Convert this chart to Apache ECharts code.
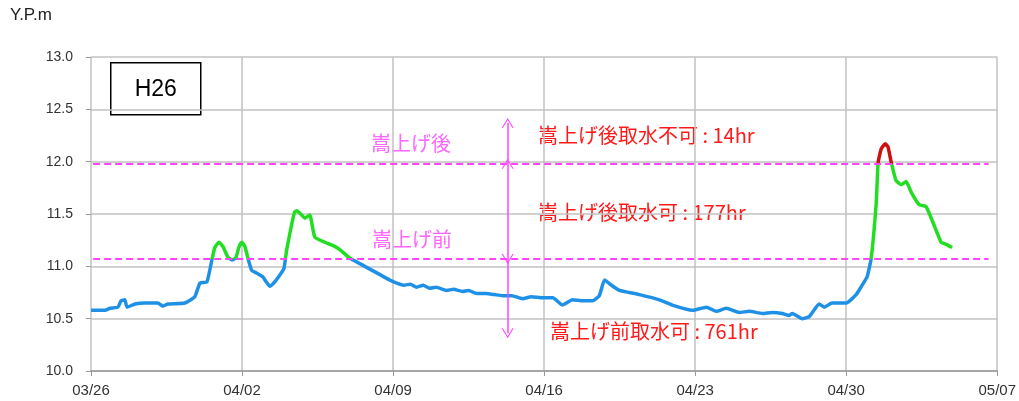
<!DOCTYPE html>
<html>
<head>
<meta charset="utf-8">
<script src="https://cdn.jsdelivr.net/npm/echarts@6/dist/echarts.min.js"></script>
<style>
  html, body { margin: 0; padding: 0; background: #fff; }
  #main { width: 1019px; height: 401px; }
</style>
</head>
<body>
<div id="main"></div>
<script>
// 日数 (03/26 0時からの経過日)
var days = [0, 0.65, 0.88, 1.25, 1.39, 1.57, 1.67, 2.04, 2.5, 3.1, 3.33, 3.56, 4.35, 4.81, 5.05, 5.37,
  5.6, 5.74, 5.93, 6.11, 6.34, 6.53, 6.71, 6.85, 6.99, 7.13, 7.27, 7.45, 7.64, 7.96, 8.29, 8.47, 8.66,
  8.94, 9.07, 9.31, 9.44, 9.54, 9.72, 9.91, 10.14, 10.37, 10.83, 11.2, 11.53, 11.99, 12.78, 13.84, 14.17,
  14.5, 14.8, 15.09, 15.4, 15.69, 16.0, 16.48, 16.8, 17.22, 17.5, 17.87, 18.3, 18.7, 19.07, 19.5, 20.0,
  20.4, 20.93, 21.4, 21.85, 22.31, 22.8, 23.24, 23.56, 23.8, 24.12, 24.49, 24.95, 25.42, 26.34, 26.94,
  27.87, 28.52, 28.98, 29.44, 30.05, 30.51, 31.11, 31.57, 32.04, 32.36, 32.5, 32.96, 33.29, 33.75, 33.98,
  34.35, 35.0, 35.46, 35.74, 35.97, 36.16, 36.39, 36.48, 36.62, 36.81, 36.94, 37.08, 37.31, 37.55, 37.78,
  38.01, 38.38, 38.7, 38.98, 39.4, 39.63, 39.91];
// 水位 (Y.P.m)
var levels = [10.58, 10.58, 10.6, 10.61, 10.67, 10.68, 10.61, 10.64, 10.65, 10.65, 10.62, 10.64, 10.65, 10.71, 10.84, 10.85,
  11.06, 11.18, 11.23, 11.19, 11.09, 11.06, 11.08, 11.18, 11.23, 11.19, 11.08, 10.96, 10.94, 10.9, 10.81, 10.84, 10.89,
  10.98, 11.16, 11.41, 11.52, 11.53, 11.5, 11.46, 11.49, 11.28, 11.23, 11.2, 11.16, 11.08, 10.99, 10.87, 10.84,
  10.82, 10.83, 10.8, 10.82, 10.79, 10.8, 10.77, 10.78, 10.76, 10.77, 10.74, 10.74, 10.73, 10.72, 10.72, 10.69,
  10.71, 10.7, 10.7, 10.63, 10.68, 10.67, 10.67, 10.72, 10.87, 10.82, 10.77, 10.75, 10.73, 10.68, 10.63,
  10.58, 10.61, 10.57, 10.6, 10.56, 10.57, 10.55, 10.56, 10.55, 10.53, 10.55, 10.5, 10.52, 10.64, 10.61,
  10.65, 10.65, 10.73, 10.82, 10.9, 11.08, 11.6, 11.99, 12.12, 12.17, 12.14, 12.0, 11.82, 11.78, 11.81,
  11.71, 11.59, 11.57, 11.44, 11.23, 11.21, 11.18];
var xTickLabels = ['03/26', '04/02', '04/09', '04/16', '04/23', '04/30', '05/07'];
var levelBefore = 11.07;  // 嵩上げ前
var levelAfter = 11.98;   // 嵩上げ後
var arrowDay = 19.31;
var arrowTop = 12.37;
var arrowBottom = 10.36;

var seriesData = days.map(function (d, i) { return [d, levels[i]]; });
var chevronUp = 'path://M0,10 L5,0 L10,10 L9,10 L5,2 L1,10 Z';

var myChart = echarts.init(document.getElementById('main'));
var option = {
  animation: false,
  grid: { left: 91, right: 21, top: 57, bottom: 30 },
  xAxis: {
    type: 'value',
    min: 0,
    max: 42,
    interval: 7,
    axisLine: { lineStyle: { color: '#999', width: 1.5 } },
    axisTick: { show: true, length: 5, lineStyle: { color: '#999' } },
    axisLabel: {
      color: '#333',
      fontSize: 15,
      fontFamily: 'Liberation Sans',
      margin: 12,
      formatter: function (v) { return xTickLabels[Math.round(v / 7)] || ''; }
    },
    splitLine: { show: true, lineStyle: { color: '#c2c2c2', width: 1.5 } }
  },
  yAxis: {
    type: 'value',
    min: 10,
    max: 13,
    interval: 0.5,
    axisLine: { show: false },
    axisTick: { show: true, length: 5, lineStyle: { color: '#999' } },
    axisLabel: {
      color: '#333',
      fontSize: 14,
      fontFamily: 'Liberation Sans',
      margin: 18,
      formatter: function (v) { return v.toFixed(1); }
    },
    splitLine: { lineStyle: { color: '#c2c2c2', width: 1.5 } }
  },
  visualMap: {
    show: false,
    type: 'piecewise',
    dimension: 1,
    seriesIndex: 0,
    pieces: [
      { lt: levelBefore, color: '#1e90e6' },
      { gte: levelBefore, lt: levelAfter, color: '#22dd22' },
      { gte: levelAfter, color: '#cc1010' }
    ]
  },
  series: [
    {
      type: 'line',
      data: seriesData,
      showSymbol: false,
      smooth: 0.15,
      lineStyle: { width: 3.5 }
    },
    {
      // 補助線と矢印
      type: 'line',
      data: [],
      silent: true,
      markLine: {
        silent: true,
        symbol: ['none', 'none'],
        label: { show: false },
        lineStyle: { color: '#ff44ff', width: 1.5, type: 'solid' },
        data: [
          [{ coord: [0.1, levelAfter], lineStyle: { type: [7, 4], width: 2 } }, { coord: [41.6, levelAfter] }],
          [{ coord: [0.1, levelBefore], lineStyle: { type: [7, 4], width: 2 } }, { coord: [41.6, levelBefore] }],
          [{ coord: [arrowDay, levelAfter], symbol: 'none' }, { coord: [arrowDay, arrowTop], symbol: chevronUp, symbolSize: [12, 10] }],
          [{ coord: [arrowDay, levelBefore], symbol: chevronUp, symbolSize: [12, 10] }, { coord: [arrowDay, levelAfter], symbol: chevronUp, symbolSize: [12, 10] }],
          [{ coord: [arrowDay, levelBefore], symbol: 'none' }, { coord: [arrowDay, arrowBottom], symbol: chevronUp, symbolSize: [12, 10] }]
        ]
      }
    }
  ],
  graphic: [
    {
      type: 'text', left: 10, top: 7,
      style: { text: 'Y.P.m', fill: '#222', font: '17px "Liberation Sans"' }
    },
    {
      type: 'group', left: 110, top: 62,
      children: [
        { type: 'rect', shape: { x: 0, y: 0, width: 90, height: 52 }, style: { fill: '#fff', stroke: '#000', lineWidth: 1.5 } },
        { type: 'text', x: 45, y: 27, style: { text: 'H26', fill: '#000', font: '23px "Liberation Sans"', align: 'center', verticalAlign: 'middle' } }
      ]
    },
    {
      type: 'text', left: 371, top: 133,
      style: { text: '嵩上げ後', fill: '#ff66ff', font: '20px "Noto Sans CJK JP"' }
    },
    {
      type: 'text', left: 372, top: 229,
      style: { text: '嵩上げ前', fill: '#ff66ff', font: '20px "Noto Sans CJK JP"' }
    },
    {
      type: 'text', left: 538, top: 125,
      style: { text: '嵩上げ後取水不可 : 14hr', fill: '#ff1a1a', font: '20px "Noto Sans CJK JP"' }
    },
    {
      type: 'text', left: 538, top: 202,
      style: { text: '嵩上げ後取水可 : 177hr', fill: '#ff1a1a', font: '20px "Noto Sans CJK JP"' }
    },
    {
      type: 'text', left: 550, top: 321,
      style: { text: '嵩上げ前取水可 : 761hr', fill: '#ff1a1a', font: '20px "Noto Sans CJK JP"' }
    }
  ]
};
myChart.setOption(option);
</script>
</body>
</html>
